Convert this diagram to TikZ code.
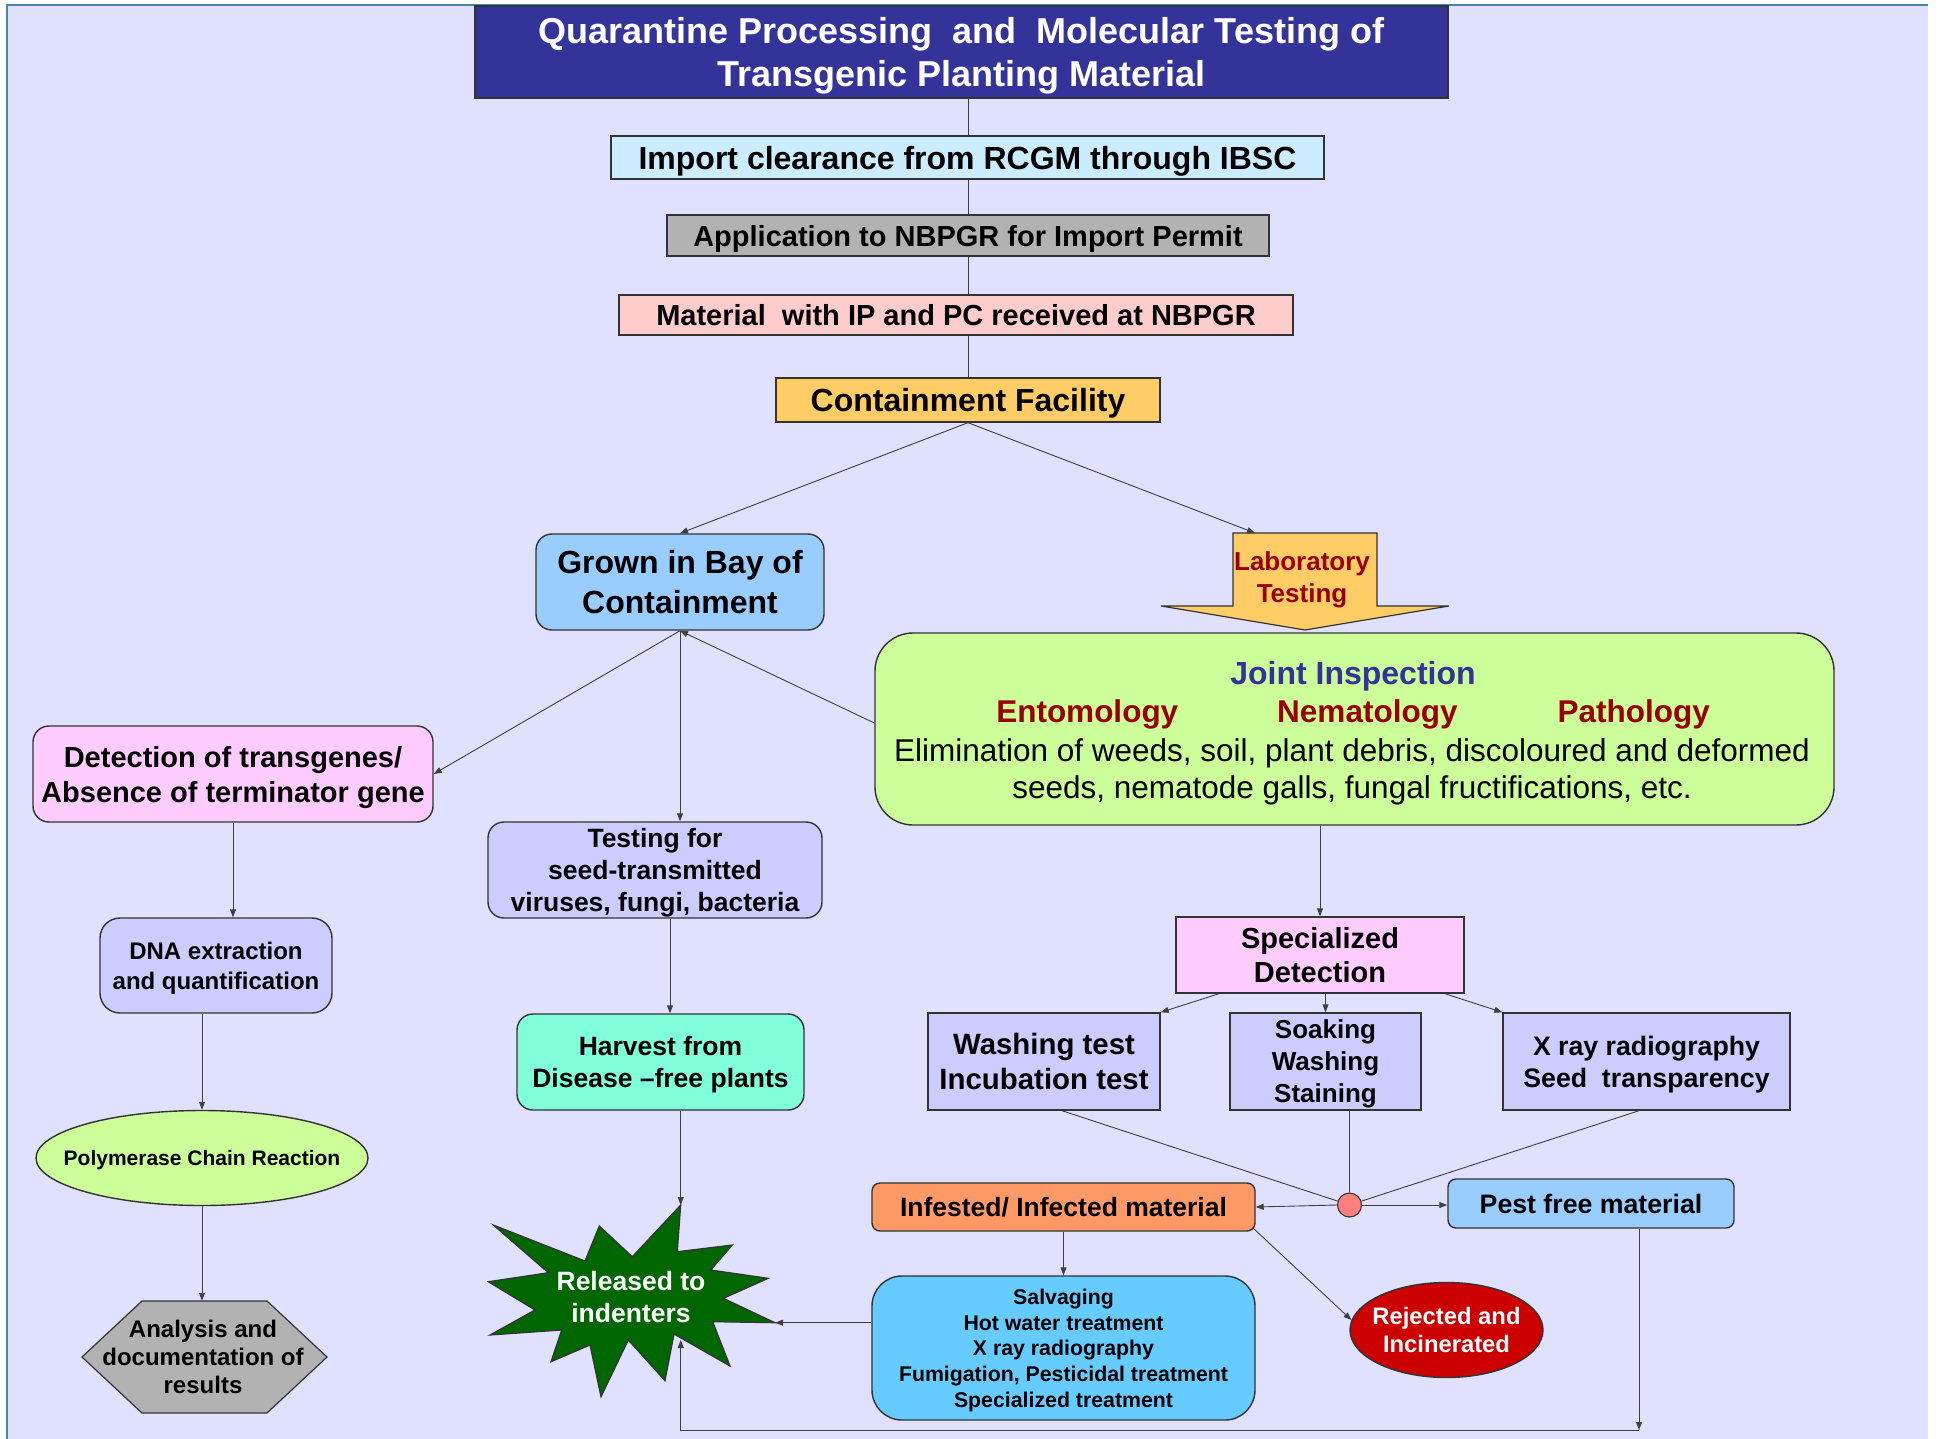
\documentclass[tikz,border=0pt]{standalone}
\usepackage{fontspec}
\setmainfont{Liberation Sans}
\usetikzlibrary{arrows.meta,shapes.geometric}
\definecolor{bgc}{HTML}{E0E0FF}
\definecolor{bordc}{HTML}{4A86A8}
\definecolor{titlec}{HTML}{333399}
\definecolor{impc}{HTML}{CCECFF}
\definecolor{grayc}{HTML}{B2B2B2}
\definecolor{pinkc}{HTML}{FFCCCC}
\definecolor{orangec}{HTML}{FFCC66}
\definecolor{skyc}{HTML}{99CCFF}
\definecolor{labred}{HTML}{990000}
\definecolor{limec}{HTML}{CCFF99}
\definecolor{magc}{HTML}{FFCCFF}
\definecolor{lavc}{HTML}{CCCCFF}
\definecolor{aquac}{HTML}{80FFD9}
\definecolor{starc}{HTML}{006600}
\definecolor{salvc}{HTML}{66CCFF}
\definecolor{infc}{HTML}{FF9966}
\definecolor{circc}{HTML}{FF7F7F}
\definecolor{rejc}{HTML}{CC0000}
\definecolor{linec}{HTML}{404040}
\newcommand{\fsz}[2]{\fontsize{#1}{#2}\selectfont}
\tikzset{
  box/.style={draw=black!80, line width=1.4pt, inner sep=0pt, align=center, text depth=0pt},
  rbox/.style={box, rounded corners=16pt},
  txt/.style={inner sep=0pt, align=center, text depth=0pt},
  conn/.style={draw=linec, line width=0.9pt},
  arr/.style={conn, -{Triangle[length=8pt,width=6pt]}},
  shp/.style={draw=black!80, line width=1.2pt}
}
\begin{document}
\begin{tikzpicture}[x=1pt,y=-1pt]
\useasboundingbox (0,0) rectangle (1937,1439);
\fill[bgc] (7,5) rectangle (1928,1439);
\draw[bordc, line width=1.5pt] (7,1439) -- (7,5) -- (1928,5);

% top chain
\node[box, fill=titlec, text=white, minimum width=973, minimum height=92, font=\bfseries\fsz{36}{43}] (title) at (961.5,52) {Quarantine Processing\ \ and\ \ Molecular Testing of\\Transgenic Planting Material};
\node[box, fill=impc, minimum width=713, minimum height=43, font=\bfseries\fsz{32}{38}] (imp) at (967.5,157.5) {Import clearance from RCGM through IBSC};
\node[box, fill=grayc, minimum width=602, minimum height=41, font=\bfseries\fsz{29}{35}] (app) at (968,235.5) {Application to NBPGR for Import Permit};
\node[box, fill=pinkc, minimum width=674, minimum height=40, font=\bfseries\fsz{29}{35}] (mat) at (956,315) {Material\ \ with IP and PC received at NBPGR};
\node[box, fill=orangec, minimum width=384, minimum height=44, font=\bfseries\fsz{32}{38}] (cont) at (968,400) {Containment Facility};

% grown
\node[rbox, fill=skyc, minimum width=288, minimum height=96, font=\bfseries\fsz{32}{40}] (grown) at (680,582) {Grown in Bay of\\Containment};

% laboratory arrow
\draw[shp, fill=orangec] (1233,533) -- (1377,533) -- (1377,606) -- (1449,606) -- (1305,630) -- (1161,606) -- (1233,606) -- cycle;
\node[txt, text=labred, font=\bfseries\fsz{26}{32}] (lab) at (1302,577) {Laboratory\\Testing};
\coordinate (labin) at (1255,533);

% joint inspection
\node[box, rounded corners=38pt, fill=limec, minimum width=959, minimum height=192] (joint) at (1354.5,729) {};
\node[txt, text=titlec, font=\bfseries\fsz{32}{38}] (jt1) at (1353,673) {Joint Inspection};
\node[txt, text=labred, font=\bfseries\fsz{31.5}{38}] (jt2) at (1353,711.5) {Entomology\hspace{99pt}Nematology\hspace{100pt}Pathology};
\node[txt, font=\fsz{31.5}{37}] (jt3) at (1352,768.5) {Elimination of weeds, soil, plant debris, discoloured and deformed\\seeds, nematode galls, fungal fructifications, etc.};

% left column
\node[rbox, fill=magc, minimum width=400, minimum height=96, font=\bfseries\fsz{29}{35}] (det) at (233,774) {Detection of transgenes/\\Absence of terminator gene};
\node[rbox, fill=lavc, rounded corners=20pt, minimum width=232, minimum height=95, font=\bfseries\fsz{24}{30}] (dna) at (216,965.5) {DNA extraction\\and quantification};
\node[box, ellipse, fill=limec, minimum width=332, minimum height=95] (pcr) at (202,1158) {};
\node[txt, font=\bfseries\fsz{21}{25}] (pcrt) at (202,1158) {Polymerase Chain Reaction};
\draw[shp, fill=grayc] (82,1357) -- (142,1301) -- (267,1301) -- (327,1357) -- (267,1413) -- (142,1413) -- cycle;
\node[txt, minimum width=245, minimum height=112, font=\bfseries\fsz{24}{28}] (ana) at (203,1357) {Analysis and\\documentation of\\results};

% middle column
\node[rbox, fill=lavc, minimum width=334, minimum height=96, font=\bfseries\fsz{26.5}{32}] (test) at (655,870) {Testing for\\seed-transmitted\\viruses, fungi, bacteria};
\node[rbox, fill=aquac, minimum width=287, minimum height=96, font=\bfseries\fsz{26.5}{32}] (harv) at (660.5,1062) {Harvest from\\Disease –free plants};

% star
\draw[shp, fill=starc] (680.7,1205) -- (677.3,1251.7) -- (732.3,1245) -- (710.7,1270) -- (768.3,1278.3) -- (723.3,1298.3) -- (775,1322.7) -- (712.7,1321.7) -- (730,1366) -- (674,1334) -- (665,1380.7) -- (628.3,1340) -- (601,1396.7) -- (590,1345) -- (551,1361.7) -- (561.7,1330) -- (490,1335) -- (535,1310) -- (488.3,1281.7) -- (548.3,1272.7) -- (493.3,1225) -- (585,1261) -- (599.3,1226) -- (632.3,1256.7) -- cycle;
\node[txt, text=white, font=\bfseries\fsz{26.5}{32}] (rel) at (631,1297) {Released to\\indenters};
\coordinate (startop) at (680.7,1205);
\coordinate (starR) at (775,1322.7);
\coordinate (starB) at (680.7,1340);

% right part
\node[box, fill=magc, minimum width=288, minimum height=76, font=\bfseries\fsz{29}{34}] (spec) at (1320,955) {Specialized\\Detection};
\node[box, fill=lavc, minimum width=232, minimum height=97, font=\bfseries\fsz{29.4}{35}] (wash) at (1044,1061.5) {Washing test\\Incubation test};
\node[box, fill=lavc, minimum width=191, minimum height=97, font=\bfseries\fsz{26}{32}] (soak) at (1325.5,1061.5) {Soaking\\Washing\\Staining};
\node[box, fill=lavc, minimum width=287, minimum height=97, font=\bfseries\fsz{26.7}{32}] (xray) at (1646.5,1061.5) {X ray radiography\\Seed\ \ transparency};
\node[box, rounded corners=8pt, fill=infc, minimum width=383, minimum height=48, font=\bfseries\fsz{26.5}{32}] (inf) at (1063.5,1207) {Infested/ Infected material};
\node[box, circle, fill=circc, line width=1.1pt, minimum size=24] (circ) at (1349.5,1205) {};
\node[box, rounded corners=8pt, fill=skyc, minimum width=286, minimum height=49, font=\bfseries\fsz{26.7}{32}] (pest) at (1591,1203.5) {Pest free material};
\node[box, rounded corners=30pt, fill=salvc, minimum width=383, minimum height=144, font=\bfseries\fsz{21.3}{25.7}] (salv) at (1063.5,1348) {Salvaging\\Hot water treatment\\X ray radiography\\Fumigation, Pesticidal treatment\\Specialized treatment};
\node[box, ellipse, fill=rejc, minimum width=193, minimum height=95] (rej) at (1446.5,1330) {};
\node[txt, text=white, font=\bfseries\fsz{23.8}{28}] (rejt) at (1446.5,1330) {Rejected and\\Incinerated};
\coordinate (corner) at (1639,1430);

% connectors
\draw[conn] (title.south -| cont.north) -- (imp.north -| cont.north);
\draw[conn] (imp.south -| cont.north) -- (app.north -| cont.north);
\draw[conn] (app.south -| cont.north) -- (mat.north -| cont.north);
\draw[conn] (mat.south -| cont.north) -- (cont.north);
\draw[arr] (cont.south) -- (grown.north);
\draw[arr] (cont.south) -- (labin);
\draw[arr] ([yshift=6pt]joint.west) -- (grown.south);
\draw[arr] (grown.south) -- (det.east);
\draw[arr] (grown.south) -- (grown.south |- test.north);
\draw[arr] (det.south) -- (det.south |- dna.north);
\draw[arr] (pcr.north |- dna.south) -- (pcr.north);
\draw[arr] (pcr.south) -- (pcr.south |- ana.north);
\draw[arr] ([xshift=15pt]test.south) -- ([xshift=15pt]test.south |- harv.north);
\draw[arr] (harv.south -| startop) -- (startop);
\draw[arr] (salv.west |- starR) -- (starR);
\draw[arr] (pest.south -| corner) -- (corner);
\draw[arr] (corner) -- (corner -| starB) -- (starB);
\draw[arr] (joint.south -| spec.north) -- (spec.north);
\draw[arr] ([xshift=-101pt]spec.south) -- (wash.north east);
\draw[arr] (spec.south -| soak.north) -- (soak.north);
\draw[arr] ([xshift=125pt]spec.south) -- (xray.north west);
\draw[conn] ([xshift=18pt]wash.south) -- (circ);
\draw[conn] (circ.north |- soak.south) -- (circ.north);
\draw[conn] ([xshift=-7.5pt]xray.south) -- (circ);
\draw[arr] (circ.west) -- (inf.east);
\draw[arr] (circ.east) -- (circ.east -| pest.west);
\draw[arr] (inf.south) -- (salv.north);
\draw[arr] ([shift={(-3pt,4pt)}]inf.south east) -- (rej.174);
\end{tikzpicture}
\end{document}
